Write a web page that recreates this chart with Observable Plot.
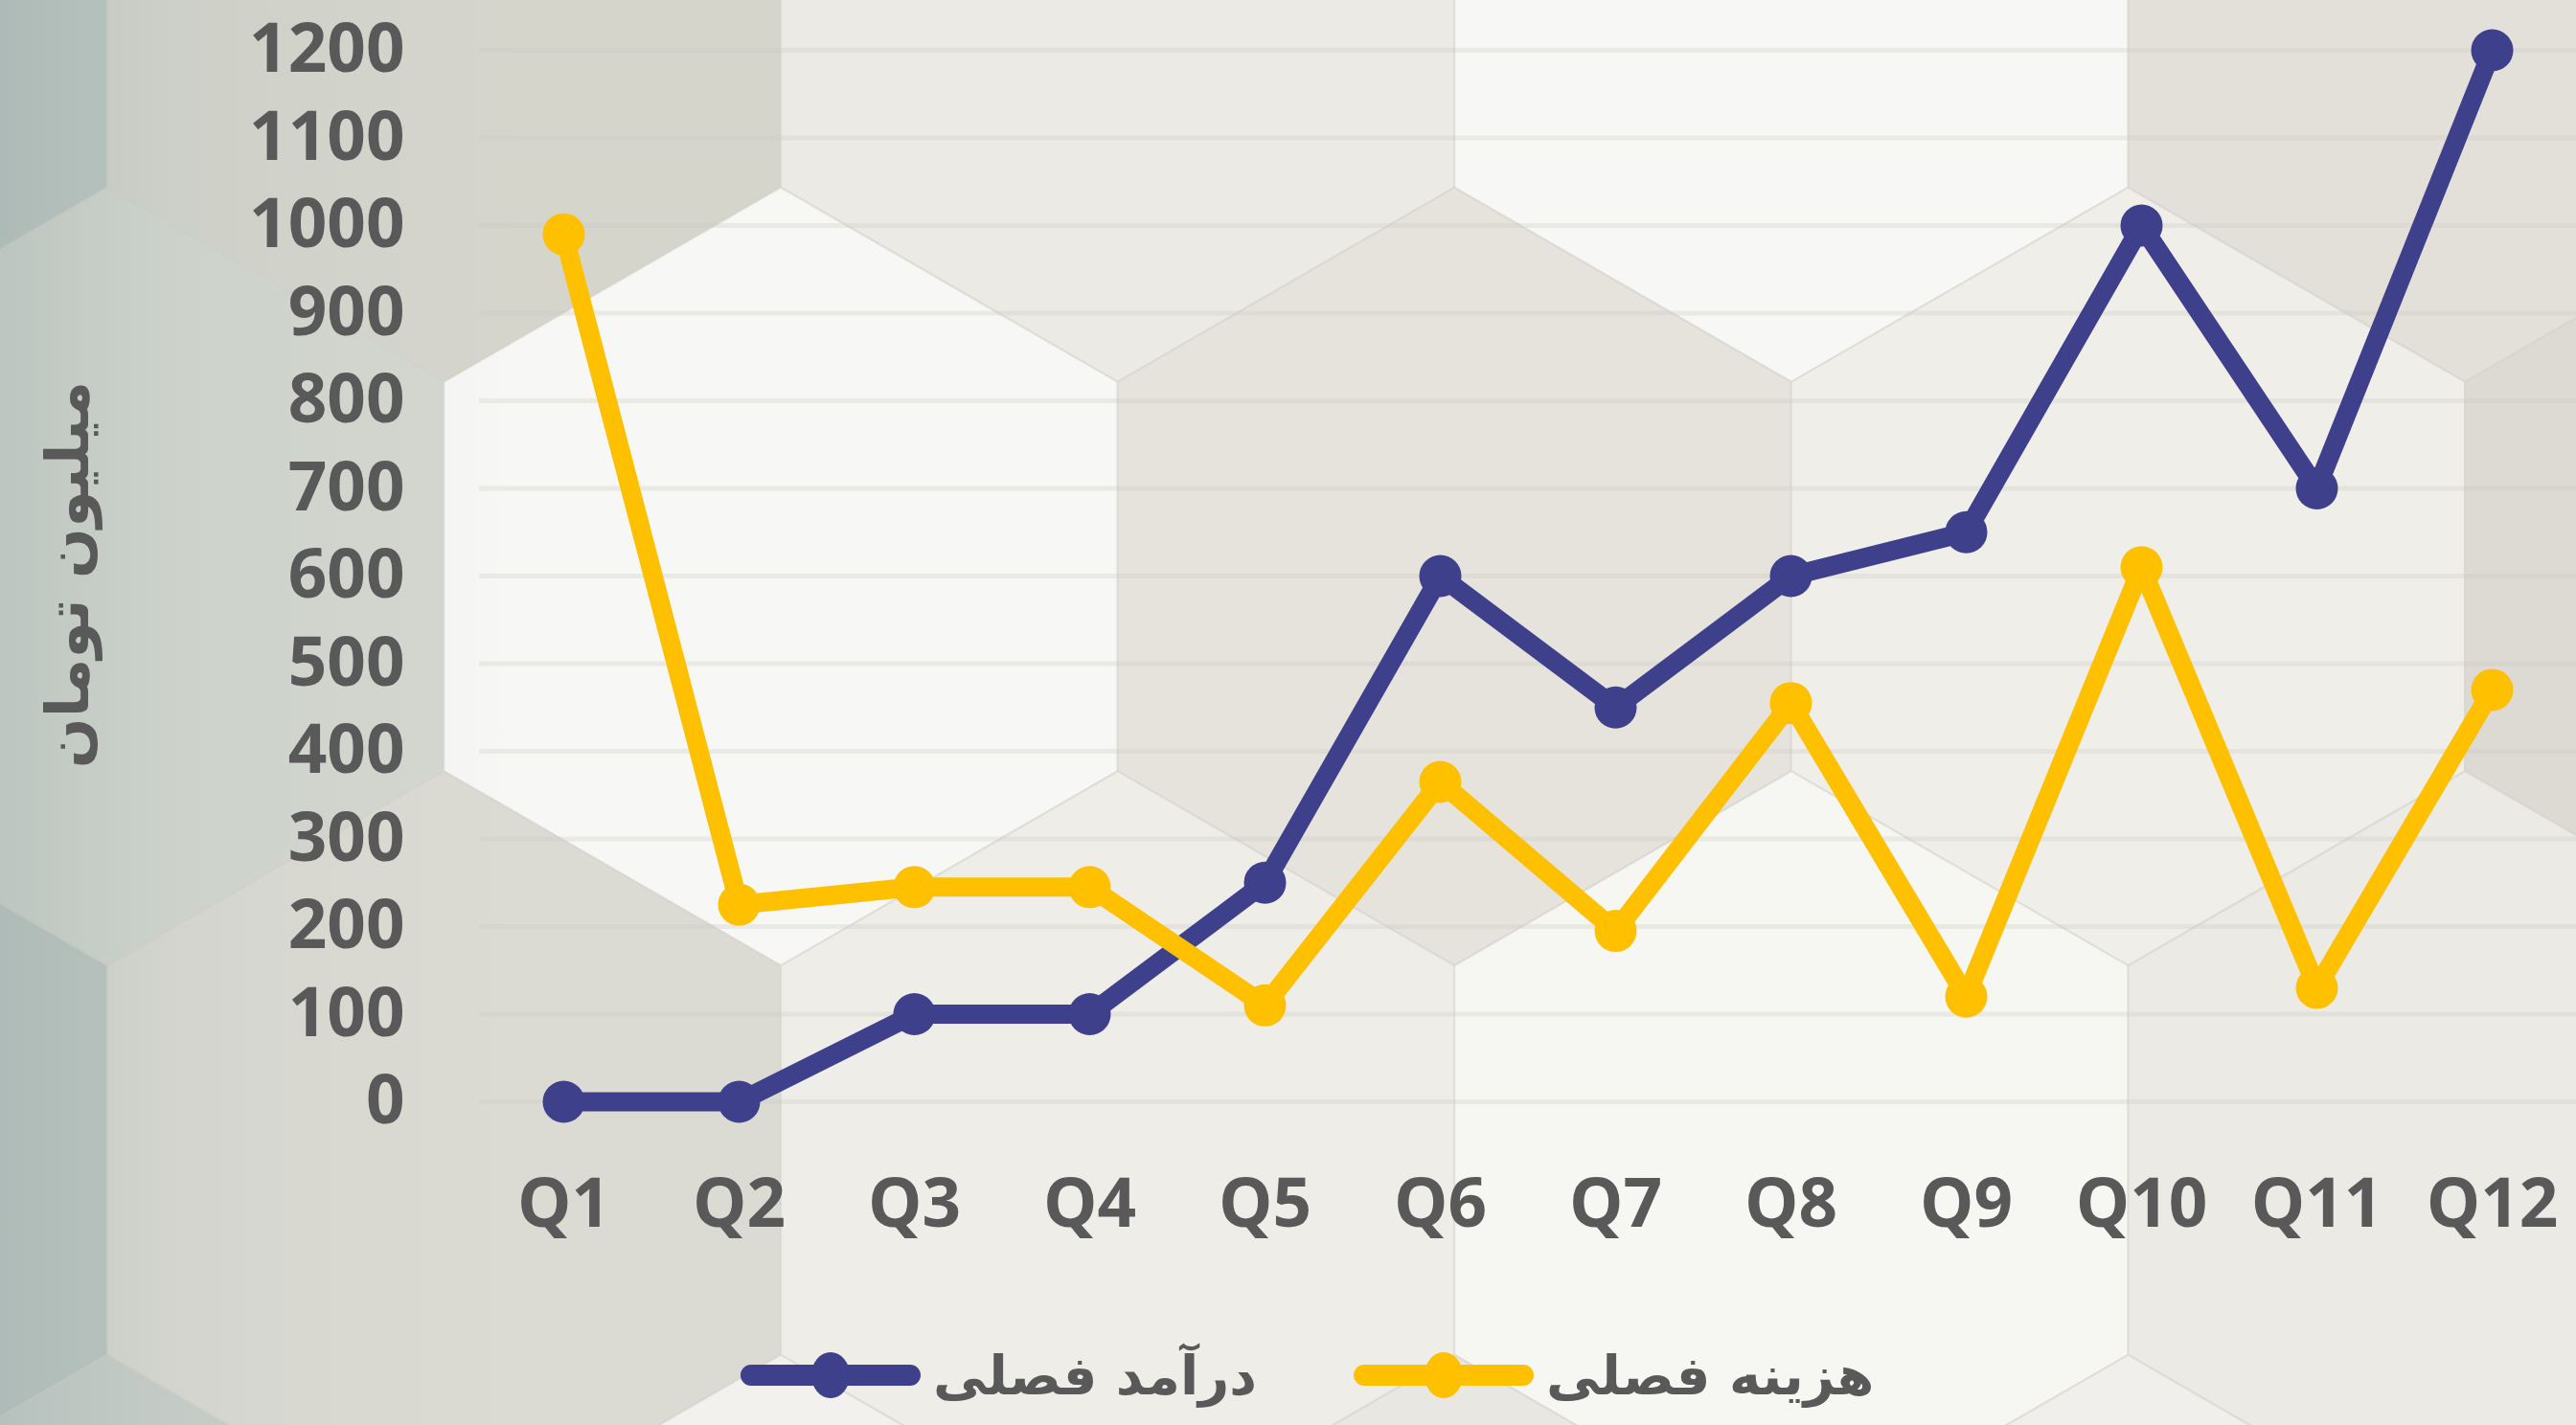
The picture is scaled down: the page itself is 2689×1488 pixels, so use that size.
<!DOCTYPE html>
<html>
<head>
<meta charset="utf-8">
<script src="https://cdn.jsdelivr.net/npm/d3@7"></script>
<script src="https://cdn.jsdelivr.net/npm/@observablehq/plot@0.6"></script>
<style>
  html, body { margin: 0; padding: 0; }
  body { width: 2689px; height: 1488px; overflow: hidden; background: #e4e2da; }
  #wrap { position: relative; width: 2689px; height: 1488px; overflow: hidden; }
  #bg { position: absolute; left: 0; top: 0; }
  #chart { position: absolute; left: 0; top: 0; }
  #ylabel {
    position: absolute; left: 70px; top: 600px;
    transform: translate(-50%, -50%) rotate(-90deg);
    font-family: "DejaVu Sans", sans-serif; font-weight: bold; font-size: 62px; color: #595959;
    white-space: nowrap; direction: rtl;
  }
  #legend {
    position: absolute; left: 0; top: 1382px; width: 2689px; height: 108px;
    display: flex; align-items: center; justify-content: flex-start;
    padding-left: 772px; box-sizing: border-box; direction: ltr;
    font-family: "DejaVu Sans", sans-serif; font-weight: bold; font-size: 56px; color: #595959;
  }
  .item { display: flex; align-items: center; }
  .item + .item { margin-left: 100px; }
  .item span { direction: rtl; margin-left: 12px; white-space: nowrap; }
</style>
</head>
<body>
<div id="wrap">
  <svg id="bg" width="2689" height="1488"></svg>
  <div id="chart"></div>
  <div id="ylabel"></div>
  <div id="legend"></div>
</div>
<script>
// ---- data ----
const quarters = ["Q1","Q2","Q3","Q4","Q5","Q6","Q7","Q8","Q9","Q10","Q11","Q12"];
const revenue = [0, 0, 100, 100, 250, 600, 450, 600, 650, 1000, 700, 1200];
const cost = [990, 225, 245, 245, 110, 365, 195, 455, 120, 610, 130, 470];
const seriesNames = ["درآمد فصلی", "هزینه فصلی"];
const seriesColors = ["#3e408b", "#ffc000"];
const yTicks = [0, 100, 200, 300, 400, 500, 600, 700, 800, 900, 1000, 1100, 1200];
const yTitle = "میلیون تومان";

// ---- decorative hexagon background ----
const hexSide = 406;
const hexW = hexSide * Math.sqrt(3);
const hexRows = [
  {cy: -7.5, x0: 463.5 - hexW, fills: ["#b9c4c0", "#d5d5cc", "#ebeae4", "#f7f7f5", "#e2e0d8", "#dddbd3"]},
  {cy: 602, x0: 815 - hexW, fills: ["#d4d7d0", "#f7f7f5", "#e5e3db", "#efeee9", "#dcdad2", "#dcdad2"]},
  {cy: 1211.5, x0: 463.5 - hexW, fills: ["#bac4c0", "#dcdbd3", "#eeede8", "#f6f6f3", "#ebeae5", "#e0ded6"]},
  {cy: 1821, x0: 815 - hexW, fills: ["#c9cfca", "#f2f1ee", "#e8e7e1", "#f0efeb", "#e6e4dc", "#e6e4dc"]}
];
const bg = d3.select("#bg");
const defs = bg.append("defs");
const lg = defs.append("linearGradient").attr("id", "leftShade").attr("x1", 0).attr("x2", 1).attr("y1", 0).attr("y2", 0);
lg.append("stop").attr("offset", "0").attr("stop-color", "#9fb0ad").attr("stop-opacity", 0.45);
lg.append("stop").attr("offset", "0.07").attr("stop-color", "#afbcb8").attr("stop-opacity", 0.2);
lg.append("stop").attr("offset", "0.2").attr("stop-color", "#c0c6c0").attr("stop-opacity", 0);
const hexPath = (cx, cy) => {
  const pts = d3.range(6).map(i => {
    const a = Math.PI / 180 * (60 * i - 90);
    return [cx + hexSide * Math.cos(a), cy + hexSide * Math.sin(a)];
  });
  return "M" + pts.map(p => p.join(",")).join("L") + "Z";
};
hexRows.forEach(row => {
  row.fills.forEach((f, k) => {
    bg.append("path").attr("d", hexPath(row.x0 + k * hexW, row.cy))
      .attr("fill", f).attr("stroke", "#d2d0c8").attr("stroke-width", 2).attr("stroke-opacity", 0.4);
  });
});
bg.append("rect").attr("width", 2689).attr("height", 1488).attr("fill", "url(#leftShade)");

// ---- chart ----
const rows = [];
quarters.forEach((q, i) => {
  rows.push({quarter: q, value: revenue[i], series: seriesNames[0]});
});
quarters.forEach((q, i) => {
  rows.push({quarter: q, value: cost[i], series: seriesNames[1]});
});

const textStyle = {fontSize: 71, fontWeight: 700, fill: "#595959", fontFamily: "'Open Sans', sans-serif"};

const chart = Plot.plot({
  width: 2689,
  height: 1330,
  marginLeft: 500,
  marginRight: 0,
  marginTop: 52,
  marginBottom: 180,
  style: {background: "transparent", overflow: "visible"},
  x: {type: "point", domain: quarters, padding: 0.48},
  y: {domain: [0, 1200]},
  color: {domain: seriesNames, range: seriesColors},
  marks: [
    Plot.gridY(yTicks, {stroke: "#c9c9c4", strokeOpacity: 0.3, strokeWidth: 5}),
    Plot.axisY(yTicks, {tickSize: 0, tickPadding: 78, label: null, tickFormat: d => String(d), ...textStyle}),
    Plot.axisX({tickSize: 0, tickPadding: 80, label: null, ...textStyle}),
    Plot.line(rows, {x: "quarter", y: "value", z: "series", stroke: "series", strokeWidth: 20, strokeLinejoin: "round", strokeLinecap: "round"}),
    Plot.dot(rows, {x: "quarter", y: "value", fill: "series", r: 22, stroke: null})
  ]
});
document.getElementById("chart").appendChild(chart);

document.getElementById("ylabel").textContent = yTitle;

// ---- legend ----
const legend = d3.select("#legend");
seriesNames.forEach((name, i) => {
  const item = legend.append("div").attr("class", "item");
  const sw = item.append("svg").attr("width", 190).attr("height", 54);
  sw.append("line").attr("x1", 12).attr("x2", 178).attr("y1", 27).attr("y2", 27)
    .attr("stroke", seriesColors[i]).attr("stroke-width", 22).attr("stroke-linecap", "round");
  sw.append("ellipse").attr("cx", 95).attr("cy", 27).attr("rx", 20).attr("ry", 24).attr("fill", seriesColors[i]);
  item.append("span").text(name);
});
</script>
</body>
</html>
